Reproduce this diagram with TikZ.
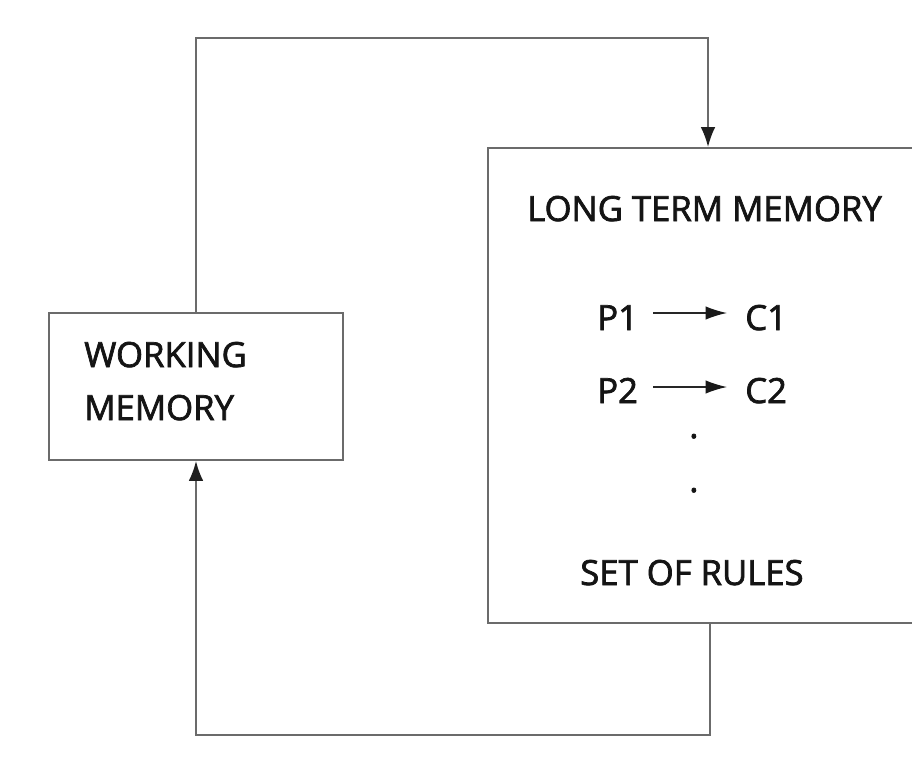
\documentclass[tikz,border=0pt]{standalone}
\usepackage{fontspec}
\setmainfont{Open Sans}
\newfontfamily\lblfont{Open Sans}[UprightFeatures={FakeBold=2}]
\usetikzlibrary{arrows.meta}
\begin{document}
\begin{tikzpicture}[x=0.75pt,y=-0.75pt,
  frame/.style={draw=black!58,line width=1.4pt,fill=white,inner sep=0pt},
  conn/.style={draw=black!58,line width=1.4pt},
  bigtip/.style={-{Latex[length=15pt,width=11pt,color=black!88]}},
  rulearrow/.style={draw=black!85,line width=1pt,-{Latex[length=16pt,width=10pt,color=black!90]}},
  lbl/.style={anchor=base west,inner sep=0pt,text=black!92,font=\lblfont\fontsize{26}{32}\selectfont}]
  \clip (0,0) rectangle (912,763);
  \fill[white] (0,0) rectangle (912,763);

  % boxes
  \node[frame,minimum width=220.5pt,minimum height=110.25pt] (wm) at (196,386.5) {};
  \node[frame,minimum width=354pt,minimum height=356.25pt] (ltm) at (724,385.5) {};

  % working memory label
  \node[lbl] (wmA) at (84,367) {WORKING};
  \node[lbl] (wmB) at (84,420) {MEMORY};

  % long term memory contents
  \node[lbl] (title) at (527,221) {LONG TERM MEMORY};
  \node[lbl] (p1) at (597,330) {P1};
  \node[lbl] (c1) at (745,330) {C1};
  \node[lbl] (p2) at (597,403) {P2};
  \node[lbl] (c2) at (745,403) {C2};
  \node[lbl] (d1) at (689,438) {.};
  \node[lbl] (d2) at (689,492) {.};
  \node[lbl] (rules) at (580,585) {SET OF RULES};

  \coordinate (a1s) at (653,313);
  \coordinate (a1e) at (727,313);
  \coordinate (a2s) at (653,387);
  \coordinate (a2e) at (727,387);
  \draw[rulearrow] (a1s) -- (a1e);
  \draw[rulearrow] (a2s) -- (a2e);

  % feedback loop between the two memories
  \coordinate (tr) at (708,38);
  \coordinate (br) at (710,735);
  \draw[conn,bigtip] (wm.north) |- (tr) -- (tr |- ltm.north);
  \draw[conn,bigtip] (br |- ltm.south) -- (br) -| (wm.south);
\end{tikzpicture}
\end{document}
